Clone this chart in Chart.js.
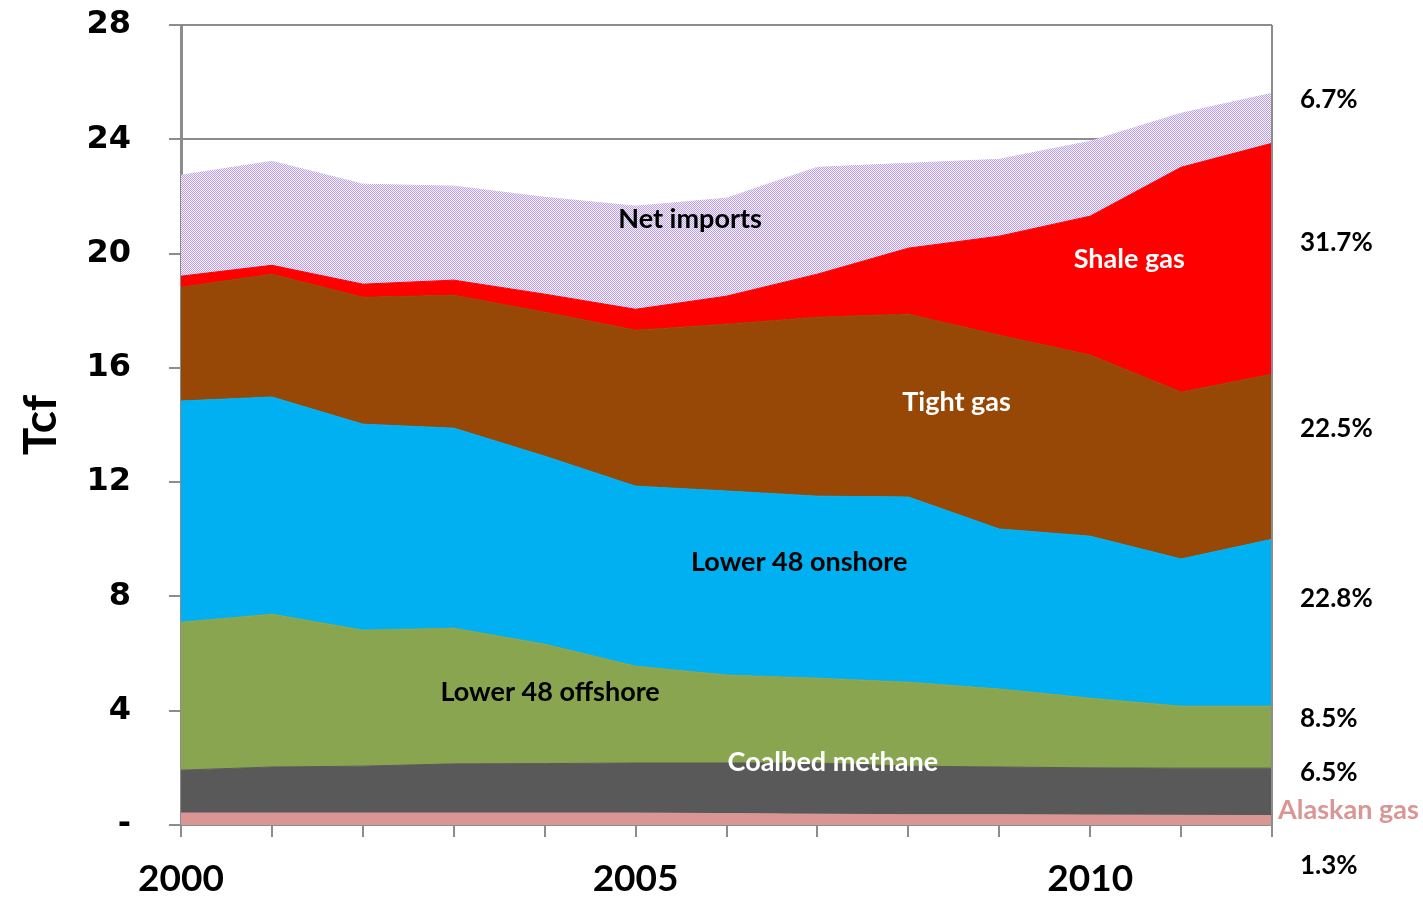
<!DOCTYPE html>
<html>
<head>
  <meta http-equiv="content-type" content="text/html; charset=utf-8"/>
  <script src="https://cdn.jsdelivr.net/npm/chart.js@4/dist/chart.umd.min.js"></script>
  <style>
    body { margin: 0; background: #fff; }
    #wrap { width: 1423px; height: 900px; }
  </style>
</head>
<body>
<div id="wrap"><canvas id="chart"></canvas></div>

<script>
    // data, Tcf per year (stacked bottom to top)
    const years = ['2000','2001','2002','2003','2004','2005','2006','2007','2008','2009','2010','2011','2012'];
    const alaskan   = [0.42,0.42,0.42,0.42,0.42,0.42,0.40,0.38,0.36,0.36,0.35,0.34,0.33];
    const coalbed   = [1.50,1.61,1.64,1.72,1.73,1.75,1.77,1.79,1.70,1.67,1.65,1.65,1.66];
    const offshore  = [5.18,5.35,4.76,4.75,4.18,3.39,3.08,2.97,2.94,2.73,2.44,2.17,2.17];
    const onshore   = [7.74,7.60,7.21,7.00,6.58,6.30,6.44,6.37,6.48,5.60,5.67,5.15,5.84];
    const tight     = [3.98,4.30,4.44,4.65,5.04,5.46,5.84,6.26,6.40,6.78,6.34,5.84,5.78];
    const shale     = [0.39,0.31,0.46,0.53,0.63,0.73,0.98,1.51,2.31,3.47,4.86,7.87,8.08];
    const netImports= [3.53,3.64,3.50,3.29,3.39,3.61,3.43,3.74,2.97,2.69,2.62,1.89,1.75];
    const yTicks = [0,4,8,12,16,20,24,28];
    const shareLabels = ['6.7%','31.7%','22.5%','22.8%','8.5%','6.5%','1.3%'];

    // dotted fill for net imports
    function dots() {
        const c = document.createElement('canvas');
        c.width = 2; c.height = 2;
        const g = c.getContext('2d');
        g.fillStyle = '#f3eefa';
        g.fillRect(0, 0, 2, 2);
        g.fillStyle = '#bba3e2';
        g.fillRect(0, 0, 1, 1);
        g.fillRect(1, 1, 1, 1);
        return g.createPattern(c, 'repeat');
    }

    function area(label, data, color, fill) {
        return {
            label: label,
            data: data,
            backgroundColor: color,
            borderColor: color,
            borderWidth: 1,
            pointRadius: 0,
            tension: 0,
            fill: fill
        };
    }

    const gray = '#8c8c8c';

    // text inside the areas, placed in data coordinates [year index, Tcf]
    const areaLabels = [
        { text: 'Net imports', x: 5.6, y: 21.2, color: '#000' },
        { text: 'Shale gas', x: 10.43, y: 19.8, color: '#fff' },
        { text: 'Tight gas', x: 8.53, y: 14.8, color: '#fff' },
        { text: 'Lower 48 onshore', x: 6.8, y: 9.2, color: '#000' },
        { text: 'Lower 48 offshore', x: 4.06, y: 4.65, color: '#000' },
        { text: 'Coalbed methane', x: 7.17, y: 2.18, color: '#fff' }
    ];

    const labelPlugin = {
        id: 'labels',
        afterDatasetsDraw(chart) {
            const ctx = chart.ctx;
            const xs = chart.scales.x, ys = chart.scales.y;
            const a = chart.chartArea;
            ctx.save();
            // right frame line
            ctx.strokeStyle = gray;
            ctx.lineWidth = 2;
            ctx.beginPath();
            ctx.moveTo(a.right, a.top);
            ctx.lineTo(a.right, a.bottom);
            ctx.stroke();

            ctx.font = 'bold 27px Lato';
            ctx.textAlign = 'center';
            ctx.textBaseline = 'middle';
            areaLabels.forEach(l => {
                ctx.fillStyle = l.color;
                ctx.fillText(l.text, xs.getPixelForValue(l.x), ys.getPixelForValue(l.y));
            });

            // shares of 2012 total, right of the plot
            const ypos = [100, 243, 429, 599, 719, 773, 866];
            ctx.textAlign = 'left';
            ctx.fillStyle = '#000';
            ctx.font = 'bold 26px Lato';
            shareLabels.forEach((t, i) => ctx.fillText(t, 1300, ypos[i]));
            ctx.fillStyle = '#d99694';
            ctx.font = 'bold 27px Lato';
            ctx.fillText('Alaskan gas', 1278, 810);
            ctx.restore();
        }
    };

    new Chart(document.getElementById('chart'), {
        type: 'line',
        data: {
            labels: years,
            datasets: [
                area('Alaskan gas', alaskan, '#d99694', 'origin'),
                area('Coalbed methane', coalbed, '#595959', '-1'),
                area('Lower 48 offshore', offshore, '#8aa54f', '-1'),
                area('Lower 48 onshore', onshore, '#00b0f0', '-1'),
                area('Tight gas', tight, '#974706', '-1'),
                area('Shale gas', shale, '#ff0000', '-1'),
                area('Net imports', netImports, dots(), '-1')
            ]
        },
        options: {
            responsive: true,
            maintainAspectRatio: false,
            animation: false,
            layout: { padding: { top: 25, right: 151, left: 0, bottom: 0 } },
            plugins: {
                legend: { display: false },
                tooltip: { enabled: false }
            },
            scales: {
                x: {
                    offset: false,
                    afterFit(scale) { scale.height = 75; },
                    grid: { drawOnChartArea: false, color: gray, lineWidth: 2, tickLength: 12 },
                    border: { color: gray, width: 2 },
                    ticks: {
                        autoSkip: false,
                        maxRotation: 0,
                        padding: 20,
                        color: '#000',
                        font: { family: 'Lato', weight: 'bold', size: 37 },
                        callback: function (v, i) { return i % 5 === 0 ? years[i] : ''; }
                    }
                },
                y: {
                    stacked: true,
                    min: 0,
                    max: 28,
                    // fixed width; drop the tick padding Chart.js would add above/below the plot
                    afterFit(scale) {
                        scale.width = 181;
                        scale.paddingTop = 0;
                        scale.paddingBottom = 0;
                    },
                    afterBuildTicks(scale) { scale.ticks = yTicks.map(v => ({ value: v })); },
                    grid: { color: gray, lineWidth: 2, tickLength: 12 },
                    border: { color: gray, width: 3 },
                    ticks: {
                        padding: 38,
                        color: '#000',
                        font: { family: 'DejaVu Sans', weight: 'bold', size: 32, lineHeight: 1 },
                        callback: v => v === 0 ? '-' : v
                    },
                    title: {
                        display: true,
                        text: 'Tcf',
                        color: '#000',
                        padding: { top: 14, bottom: 0 },
                        font: { family: 'Lato', weight: 'bold', size: 46 }
                    }
                }
            }
        },
        plugins: [labelPlugin]
    });
</script>
</body>
</html>
